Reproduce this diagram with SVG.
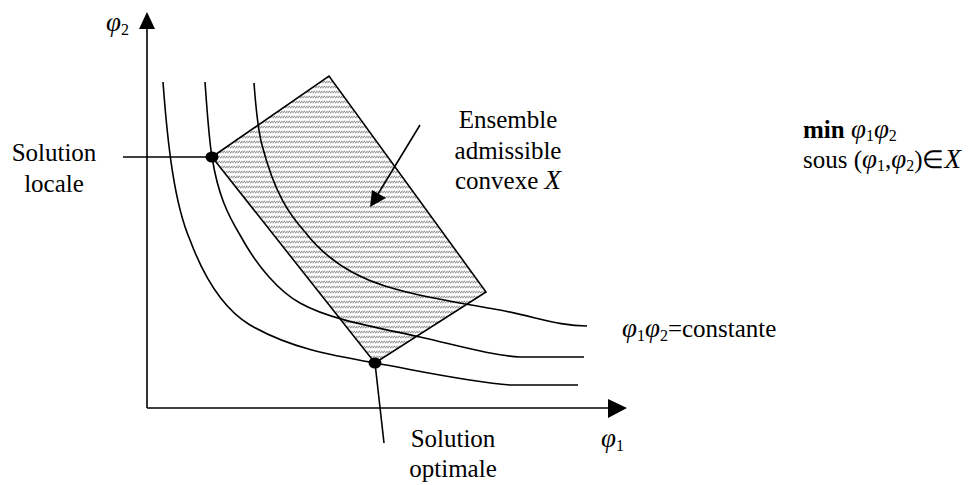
<svg xmlns="http://www.w3.org/2000/svg" width="970" height="485" viewBox="0 0 970 485">
<style>
.ln{fill:none;stroke:#000;stroke-width:1.6}
.t{font-family:"Liberation Serif","Times New Roman",serif;font-size:25px;fill:#000}
.ph{font-style:italic;font-size:27px}
.sub{font-size:16px}
</style>
<defs>
<pattern id="hatch" width="2.5" height="5" patternUnits="userSpaceOnUse">
<line x1="0" y1="3.2" x2="2.5" y2="0.8" stroke="#7a7a7a" stroke-width="0.9"/>
</pattern>
</defs>
<rect width="970" height="485" fill="#fff"/>
<g id="region">
<polygon points="212,157 329,76 486,292 375,363" fill="url(#hatch)" stroke="#000" stroke-width="1.6"/>
</g>
<g id="curves">
<path class="ln" d="M163,82 C168,150 175,205 190,240 C205,280 225,310 250,325 C290,348 330,355 375,363 C420,371 470,382 510,385 L578,385"/>
<path class="ln" d="M205,82 C207,110 209,140 212,157 C218,195 228,215 240,235 C258,268 280,292 300,303 C330,320 380,328 420,337 C460,346 490,355 520,357 L584,357"/>
<path class="ln" d="M254,83 C256,110 258,130 262,145 C275,195 290,215 305,232 C325,258 350,275 385,286 C420,297 460,303 500,310 C540,318 560,326 587,326"/>
</g>
<g id="axes">
<line class="ln" x1="147" y1="408" x2="147" y2="26"/>
<polygon points="147,12 139,29 155,29" fill="#000"/>
<line class="ln" x1="147" y1="408" x2="610" y2="408"/>
<polygon points="627,408 608,399 608,418" fill="#000"/>
<text class="t" x="106" y="31"><tspan class="ph">φ</tspan><tspan class="sub" dy="4">2</tspan></text>
<text class="t" x="601" y="447"><tspan class="ph">φ</tspan><tspan class="sub" dy="4">1</tspan></text>
</g>
<g id="connectors">
<line class="ln" x1="123" y1="157" x2="212" y2="157"/>
<line class="ln" x1="375" y1="363" x2="384" y2="443"/>
<line class="ln" x1="420" y1="125" x2="378" y2="194"/>
<polygon points="370,207 372,190 386,198" fill="#000"/>
</g>
<g id="local">
<ellipse cx="212" cy="157" rx="6.5" ry="5.5" fill="#000"/>
<text class="t" text-anchor="middle" x="54" y="161">Solution</text>
<text class="t" text-anchor="middle" x="54" y="192">locale</text>
</g>
<g id="optimal">
<ellipse cx="375" cy="363" rx="6.5" ry="5.5" fill="#000"/>
<text class="t" text-anchor="middle" x="453" y="447">Solution</text>
<text class="t" text-anchor="middle" x="453" y="477">optimale</text>
</g>
<g id="ensemble">
<text class="t" text-anchor="middle" x="508" y="128">Ensemble</text>
<text class="t" text-anchor="middle" x="508" y="159">admissible</text>
<text class="t" text-anchor="middle" x="508" y="189">convexe <tspan class="ph">X</tspan></text>
</g>
<g id="constante">
<text class="t" x="622" y="337"><tspan class="ph">φ</tspan><tspan class="sub" dy="4">1</tspan><tspan class="ph" dy="-4">φ</tspan><tspan class="sub" dy="4">2</tspan><tspan dy="-4">=constante</tspan></text>
</g>
<g id="problem">
<text class="t" x="803" y="138"><tspan font-weight="bold">min</tspan> <tspan class="ph">φ</tspan><tspan class="sub" dy="3">1</tspan><tspan class="ph" dy="-3">φ</tspan><tspan class="sub" dy="3">2</tspan></text>
<text class="t" x="803" y="168">sous (<tspan class="ph">φ</tspan><tspan class="sub" dy="3">1</tspan><tspan dy="-3">,</tspan><tspan class="ph">φ</tspan><tspan class="sub" dy="3">2</tspan><tspan dy="-3">)∈</tspan><tspan class="ph">X</tspan></text>
</g>
</svg>
